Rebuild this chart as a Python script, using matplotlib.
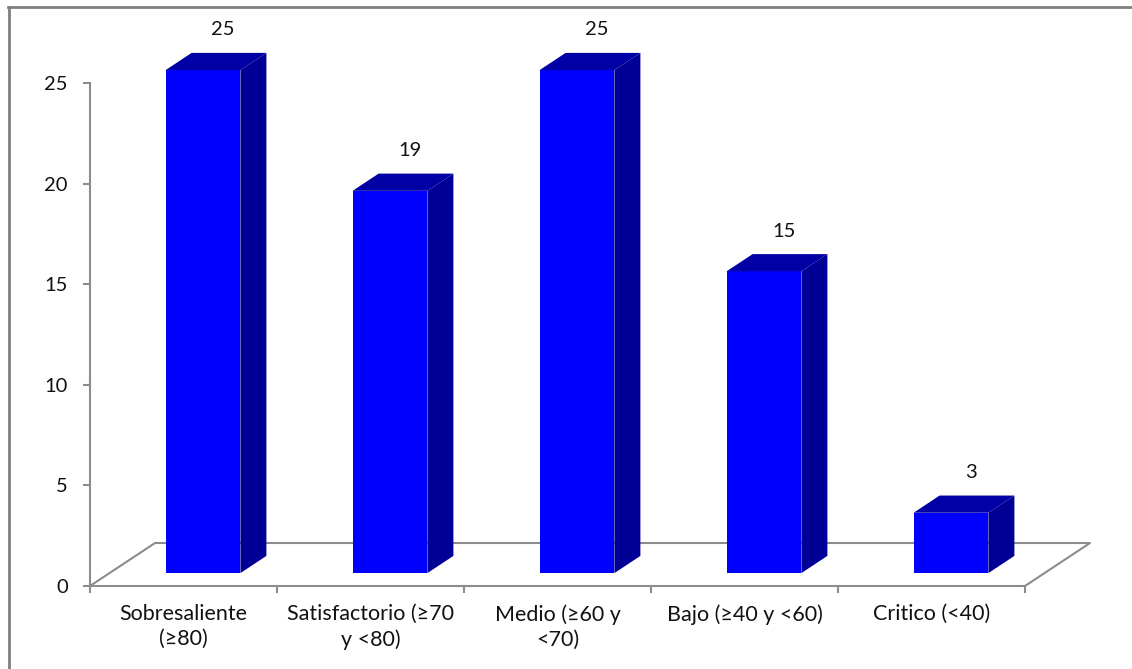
import matplotlib
matplotlib.use("Agg")
import matplotlib.pyplot as plt
from matplotlib.patches import Polygon, Rectangle
from matplotlib.lines import Line2D

categories = ["Sobresaliente\n(≥80)", "Satisfactorio (≥70\ny <80)", "Medio (≥60 y\n<70)",
              "Bajo (≥40 y <60)", "Critico (<40)"]
values = [25, 19, 25, 15, 3]
yticks = [0, 5, 10, 15, 20, 25]

W, H = 1132, 669
fig = plt.figure(figsize=(W / 100, H / 100), dpi=100)
fig.patch.set_facecolor("white")
FONT = ["Lato", "DejaVu Sans"]
plt.rcParams["font.family"] = FONT
txt_c = "#111111"

# axes: front floor from x=90..1025 px, y=586 (0) .. 83 (25)
ax = fig.add_axes([90 / W, (H - 586) / H, (1025 - 90) / W, (586 - 83) / H])
ax.set_xlim(-0.5, len(values) - 0.5)
ax.set_ylim(0, 25)
ax.set_facecolor("none")

gray = "#8c8c8c"
for s in ["top", "right"]:
    ax.spines[s].set_visible(False)
for s in ["left", "bottom"]:
    ax.spines[s].set_color(gray)
    ax.spines[s].set_linewidth(1.5)

ax.set_yticks(yticks)
ax.set_yticklabels([str(t) for t in yticks], fontsize=14.5, color=txt_c)
ax.tick_params(axis="y", direction="out", length=5, width=1.5, color=gray, pad=11)
ax.set_xticks(range(len(values)))
ax.set_xticklabels(categories, fontsize=15.5, color=txt_c, linespacing=1.32)
ax.tick_params(axis="x", which="major", length=0, pad=13)
ax.set_xticks([i - 0.5 for i in range(len(values) + 1)], minor=True)
ax.tick_params(axis="x", which="minor", direction="out", length=5, width=1.5, color=gray)

# depth geometry (data units)
dx = 65 / 187.0
dy = 43 / 20.12
n = len(values)

# back floor outline
floor = Line2D([-0.5, -0.5 + dx, n - 0.5 + dx, n - 0.5], [0, dy, dy, 0],
               color=gray, lw=1.5, clip_on=False, zorder=1)
ax.add_line(floor)

front_c = "#0000FF"
top_c = "#0000A4"
side_c = "#000096"
w = 0.40
yb = 0.3 * dy
bdx, bdy = 0.4 * dx, 0.4 * dy
for i, v in enumerate(values):
    x0 = i + 0.3 * dx - w / 2
    ax.add_patch(Rectangle((x0, yb), w, v, facecolor=front_c, edgecolor="none",
                           clip_on=False, zorder=3))
    ax.add_patch(Polygon([(x0, yb + v), (x0 + w, yb + v), (x0 + w + bdx, yb + v + bdy),
                          (x0 + bdx, yb + v + bdy)], closed=True, facecolor=top_c,
                         edgecolor="none", clip_on=False, zorder=3))
    ax.add_patch(Polygon([(x0 + w, yb), (x0 + w + bdx, yb + bdy),
                          (x0 + w + bdx, yb + v + bdy), (x0 + w, yb + v)], closed=True,
                         facecolor=side_c, edgecolor="none", clip_on=False, zorder=3))
    ax.text(i + 0.21, yb + v + 2.0, str(v), ha="center", va="center",
            fontsize=14.5, color=txt_c, clip_on=False)

# outer frame (top and left visible)
frame_c = "#7f7f7f"
fig.add_artist(Line2D([8.5 / W, 8.5 / W], [0, 1 - 7 / H], transform=fig.transFigure,
                      color=frame_c, lw=2))
fig.add_artist(Line2D([8 / W, 1], [1 - 7 / H, 1 - 7 / H], transform=fig.transFigure,
                      color=frame_c, lw=2))

fig.savefig("out.png", dpi=100, facecolor="white")
